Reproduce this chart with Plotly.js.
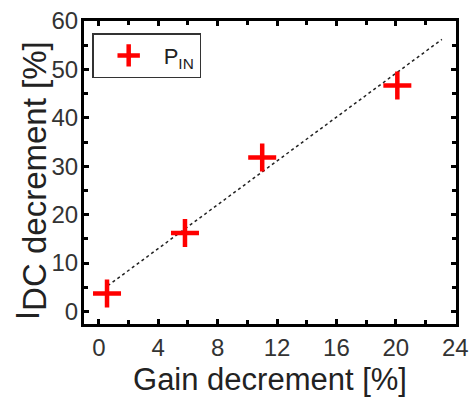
<!DOCTYPE html>
<html>
<head>
<meta charset="utf-8">
<script src="https://cdn.plot.ly/plotly-3.0.1.min.js"></script>
<style>html,body{margin:0;padding:0;background:#fff;}#chart{width:472px;height:403px;}</style>
</head>
<body>
<div id="chart"></div>
<script>
// Data
const gainDecrement = [0.55, 5.8, 11.0, 20.1];
const idcDecrement = [3.7, 16.2, 31.8, 46.7];
const fitX = [0.6, 23.1];
const fitY = [5.3, 56.2];
const seriesName = 'P<sub>IN</sub>';
const xTicks = [0, 4, 8, 12, 16, 20, 24];
const yTicks = [0, 10, 20, 30, 40, 50, 60];
const xTitle = 'Gain decrement [%]';
const yTitle = 'I<sub><span style="font-size:33px">DC decrement [%]</span></sub>';

const FONT = 'Liberation Sans, Arial, sans-serif';

const traces = [
  {
    x: fitX, y: fitY, mode: 'lines', type: 'scatter', showlegend: false,
    line: {color: '#222', width: 1.5, dash: 'dot'}, hoverinfo: 'skip'
  },
  {
    x: gainDecrement, y: idcDecrement, mode: 'markers', type: 'scatter', name: seriesName,
    marker: {symbol: 'cross-thin', size: 20, color: '#ff0000', line: {color: '#ff0000', width: 4.5}}
  }
];

const axisCommon = {
  showline: true, linecolor: '#000', linewidth: 3, mirror: 'allticks',
  ticks: 'inside', ticklen: 5, tickwidth: 3, tickcolor: '#000',
  showgrid: false, zeroline: false,
  tickfont: {family: FONT, size: 24, color: '#333'}
};

const layout = {
  width: 472, height: 403,
  margin: {l: 84, r: 16, t: 21, b: 79},
  paper_bgcolor: '#fff', plot_bgcolor: '#fff',
  showlegend: true,
  legend: {
    x: 0.022, y: 0.96, xanchor: 'left', yanchor: 'top',
    bgcolor: '#fff', bordercolor: '#333', borderwidth: 1.5,
    font: {family: FONT, size: 22, color: '#222'},
    itemwidth: 60
  },
  xaxis: Object.assign({}, axisCommon, {
    range: [-1, 24.05], tickvals: xTicks, ticktext: xTicks.map(String),
    minor: {dtick: 2, ticks: 'inside', ticklen: 4, tickwidth: 3, tickcolor: '#000', showgrid: false},
    title: {text: xTitle, standoff: 9, font: {family: FONT, size: 31, color: '#222'}}
  }),
  yaxis: Object.assign({}, axisCommon, {
    range: [-2.6, 60], tickvals: yTicks, ticktext: yTicks.map(String),
    ticklabelstandoff: -2,
    minor: {dtick: 5, ticks: 'inside', ticklen: 4, tickwidth: 3, tickcolor: '#000', showgrid: false}
  }),
  annotations: [{
    text: yTitle, textangle: -90, showarrow: false,
    xref: 'paper', yref: 'paper', x: -0.1425, y: 0.475,
    xanchor: 'center', yanchor: 'middle',
    font: {family: FONT, size: 33, color: '#222'}
  }]
};

Plotly.newPlot('chart', traces, layout, {displayModeBar: false, staticPlot: true});
</script>
</body>
</html>
